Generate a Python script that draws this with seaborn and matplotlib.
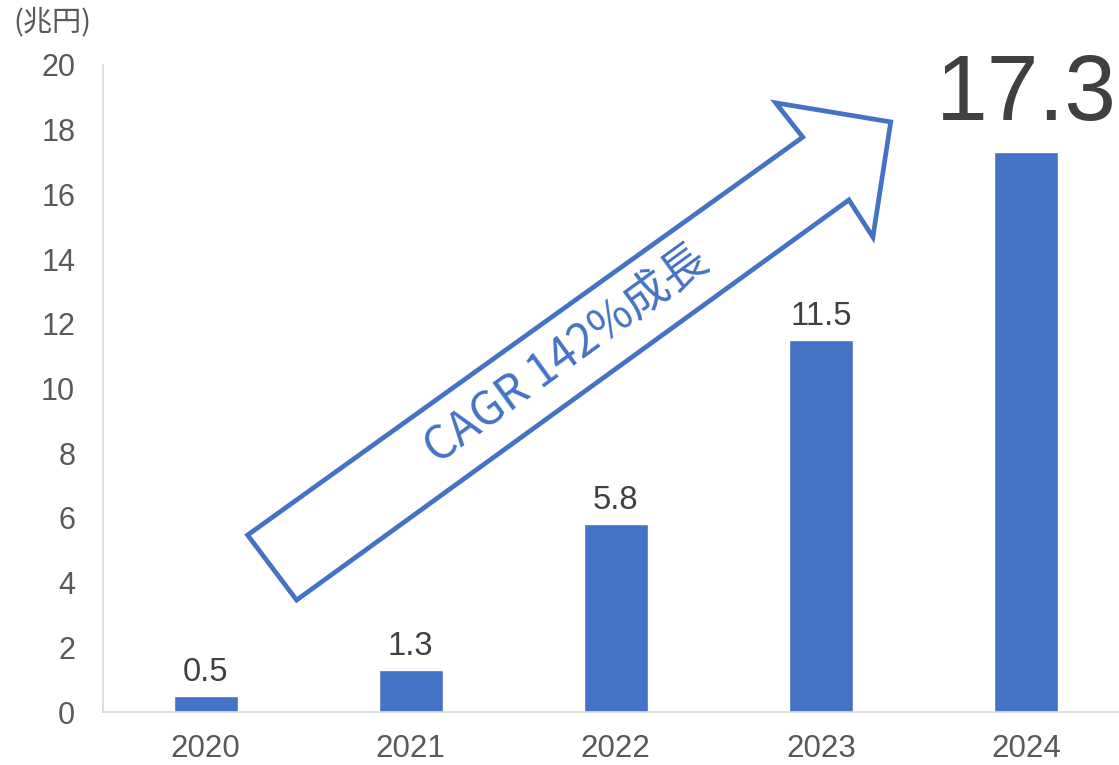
import matplotlib
matplotlib.use("Agg")
import matplotlib.pyplot as plt
import seaborn as sns
import pandas as pd
from matplotlib.patches import Polygon

years = ["2020", "2021", "2022", "2023", "2024"]
values = [0.5, 1.3, 5.8, 11.5, 17.3]
yticks = [0, 2, 4, 6, 8, 10, 12, 14, 16, 18, 20]
unit_label = "(兆円)"
arrow_text = "CAGR 142%成長"

sns.set_theme(style="white")
plt.rcParams['font.family'] = ['Liberation Sans', 'Noto Sans CJK JP', 'DejaVu Sans']

W, H = 1119, 765
fig = plt.figure(figsize=(W / 100, H / 100), dpi=100)
ax = fig.add_axes([103 / W, (H - 712) / H, (W - 103) / W, (712 - 65) / H])

df = pd.DataFrame({"year": years, "value": values})
sns.barplot(data=df, x="year", y="value", order=years, color="#4472C4",
            saturation=1, width=0.312, ax=ax, zorder=2)

ax.set_xlim(-0.5, 4.454)
ax.set_ylim(0, 20)
ax.set_yticks(yticks)
ax.set_yticklabels([str(t) for t in yticks])
ax.set_xlabel("")
ax.set_ylabel("")
ax.tick_params(axis="y", length=0, pad=20, labelsize=22, labelcolor="#595959")
ax.tick_params(axis="x", length=0, pad=16, labelsize=22.5, labelcolor="#595959")
for s in ["top", "right"]:
    ax.spines[s].set_visible(False)
for s in ["left", "bottom"]:
    ax.spines[s].set_color("#d9d9d9")
    ax.spines[s].set_linewidth(1.2)
ax.grid(False)

# data labels
for i, v in enumerate(values):
    if i == len(values) - 1:
        ax.annotate(f"{v}", (i, v), xytext=(0, 23), textcoords="offset points",
                    ha="center", va="baseline", fontsize=67, color="#404040")
    else:
        ax.annotate(f"{v}", (i, v), xytext=(0, 11), textcoords="offset points",
                    ha="center", va="baseline", fontsize=23.5, color="#404040")

# growth arrow (in data coordinates of the category axis)
arrow_pts = [(0.205, 5.47), (2.912, 17.77), (2.780, 18.83), (3.341, 18.24),
             (3.254, 14.68), (3.137, 15.83), (0.444, 3.46)]
poly = Polygon(arrow_pts, closed=True, facecolor="white", edgecolor="#4472C4",
               linewidth=3.4, joinstyle="miter", zorder=3)
ax.add_patch(poly)
ax.text(1.76, 11.05, arrow_text, rotation=36, rotation_mode="anchor",
        ha="center", va="center", fontsize=33, color="#4472C4",
        family=['Noto Sans CJK JP', 'DejaVu Sans'], zorder=4)

fig.text(13 / W, 1 - 22 / H, unit_label, ha="left", va="center", fontsize=21,
         color="#595959", family=['Noto Sans CJK JP', 'DejaVu Sans'])

fig.savefig("out.png", dpi=100)
